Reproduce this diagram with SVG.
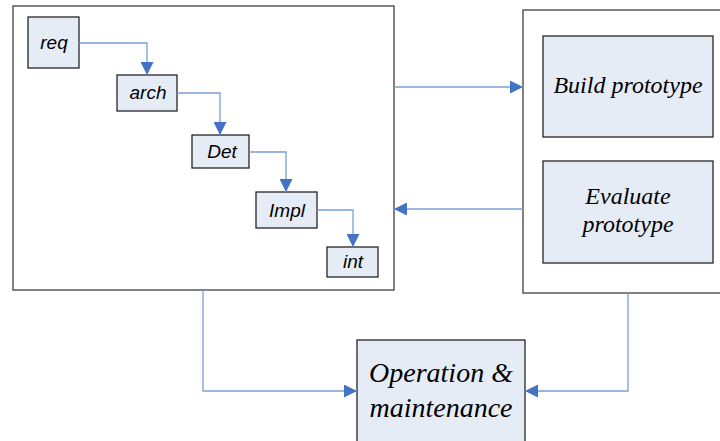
<svg xmlns="http://www.w3.org/2000/svg" width="720" height="441" viewBox="0 0 720 441">
<defs>
<style>
.outer{fill:#fff;stroke:#404040;stroke-width:1.3}
.box{fill:#e6ecf6;stroke:#262626;stroke-width:1.3}
.s{font-family:"Liberation Sans",Arial,sans-serif;font-style:italic;font-size:19px;fill:#000;text-anchor:middle}
.b{font-family:"Liberation Serif","Times New Roman",serif;font-style:italic;font-size:24px;fill:#000;text-anchor:middle}
.o{font-family:"Liberation Serif","Times New Roman",serif;font-style:italic;font-size:28px;fill:#000;text-anchor:middle}
.c{fill:none;stroke:#7a9fd6;stroke-width:1.3}
</style>
<marker id="ah" viewBox="0 0 10 10" refX="10" refY="5" markerWidth="13" markerHeight="13" markerUnits="userSpaceOnUse" orient="auto">
<path d="M0,0 L10,5 L0,10 Z" fill="#4472c4"/>
</marker>
</defs>
<g id="waterfall-container"><rect class="outer" x="13" y="6" width="381" height="284"/></g>
<g id="prototype-container"><rect class="outer" x="523" y="10" width="205" height="283"/></g>
<g id="req"><rect class="box" x="28" y="17" width="51" height="51"/><text class="s" x="54" y="49">req</text></g>
<g id="arch"><rect class="box" x="117" y="75" width="60" height="36"/><text class="s" x="148" y="99">arch</text></g>
<g id="det"><rect class="box" x="192" y="135" width="57" height="33"/><text class="s" x="222" y="158">Det</text></g>
<g id="impl"><rect class="box" x="256" y="192" width="61" height="36"/><text class="s" x="287" y="217">Impl</text></g>
<g id="int"><rect class="box" x="327" y="247" width="51" height="30"/><text class="s" x="353" y="268">int</text></g>
<g id="build"><rect class="box" x="543" y="36" width="170" height="101"/><text class="b" x="628" y="93">Build prototype</text></g>
<g id="evaluate"><rect class="box" x="543" y="161" width="170" height="102"/><text class="b" x="628" y="204">Evaluate</text><text class="b" x="628" y="232">prototype</text></g>
<g id="operation"><rect class="box" x="357" y="340" width="168" height="110"/><text class="o" x="441" y="382">Operation &amp;</text><text class="o" x="441" y="417">maintenance</text></g>
<g id="connectors">
<path class="c" d="M79,43 H147 V75" marker-end="url(#ah)"/>
<path class="c" d="M177,93 H220 V135" marker-end="url(#ah)"/>
<path class="c" d="M249,152 H286 V192" marker-end="url(#ah)"/>
<path class="c" d="M317,210 H353 V247" marker-end="url(#ah)"/>
<path class="c" d="M394,87 H523" marker-end="url(#ah)"/>
<path class="c" d="M523,209 H394" marker-end="url(#ah)"/>
<path class="c" d="M203,290 V391 H357" marker-end="url(#ah)"/>
<path class="c" d="M628,293 V391 H525" marker-end="url(#ah)"/>
</g>
</svg>
